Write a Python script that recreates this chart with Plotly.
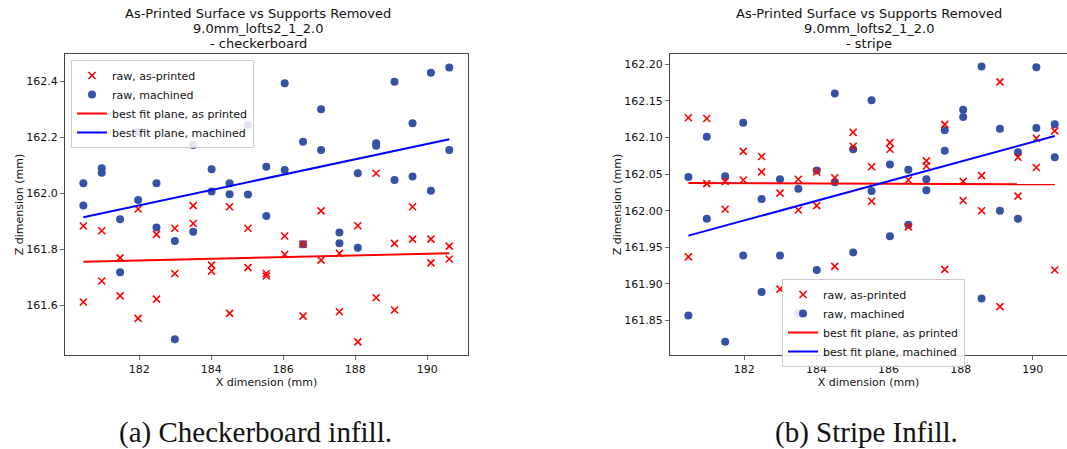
import plotly.graph_objects as go

# ---------------- data ----------------
x_positions = [180.45, 180.96, 181.47, 181.97, 182.48, 182.99, 183.50, 184.01, 184.51, 185.02,
               185.53, 186.04, 186.55, 187.05, 187.56, 188.07, 188.58, 189.09, 189.59, 190.10, 190.61]

# checkerboard: two readings per x column
checker_printed = [
    [161.883, 161.611], [161.866, 161.686], [161.769, 161.633], [161.944, 161.552],
    [161.853, 161.621], [161.875, 161.713], [161.956, 161.892], [161.743, 161.721],
    [161.952, 161.570], [161.875, 161.734], [161.713, 161.704], [161.847, 161.781],
    [161.818, 161.560], [161.937, 161.761], [161.785, 161.576], [161.884, 161.468],
    [162.072, 161.626], [161.821, 161.582], [161.952, 161.836], [161.836, 161.751],
    [161.811, 161.765]]
checker_machined = [
    [162.036, 161.956], [162.090, 162.074], [161.907, 161.717], [162.219, 161.976],
    [162.036, 161.878], [161.829, 161.477], [162.173, 161.862], [162.086, 162.007],
    [162.036, 161.997], [162.245, 161.996], [162.095, 161.919], [162.394, 162.084],
    [162.185, 161.818], [162.301, 162.155], [161.860, 161.821], [162.072, 161.805],
    [162.179, 162.170], [162.400, 162.048], [162.251, 162.060], [162.432, 162.009],
    [162.451, 162.155]]
checker_fit_printed = [161.755, 161.785]
checker_fit_machined = [161.914, 162.194]

stripe_printed = [
    [162.127, 161.937], [162.126, 162.037], [162.040, 162.002], [162.081, 162.042],
    [162.074, 162.053], [162.024, 161.893], [162.043, 162.001], [162.053, 162.007],
    [162.045, 161.924], [162.107, 162.088], [162.060, 162.013], [162.093, 162.084],
    [162.042, 161.978], [162.068, 162.061], [162.118, 161.920], [162.040, 162.014],
    [162.048, 162.000], [162.176, 161.869], [162.073, 162.020], [162.099, 162.059],
    [162.109, 161.919]]
stripe_machined = [
    [162.046, 161.857], [162.101, 161.989], [162.047, 161.821], [162.120, 161.939],
    [162.016, 161.889], [162.043, 161.939], [162.030, 161.860], [162.055, 161.919],
    [162.160, 162.039], [162.084, 161.943], [162.151, 162.027], [162.063, 161.965],
    [162.056, 161.981], [162.043, 162.028], [162.110, 162.082], [162.138, 162.128],
    [162.197, 161.880], [162.112, 162.000], [162.080, 161.989], [162.196, 162.113],
    [162.118, 162.073]]
stripe_fit_printed = [162.038, 162.036]
stripe_fit_machined = [161.966, 162.102]

x_ticks = [182, 184, 186, 188, 190]
checker_y_ticks = [161.6, 161.8, 162.0, 162.2, 162.4]
stripe_y_ticks = [161.85, 161.90, 161.95, 162.00, 162.05, 162.10, 162.15, 162.20]

title_lines = ["As-Printed Surface vs Supports Removed", "9.0mm_lofts2_1_2.0"]
subtitles = ["- checkerboard", "- stripe"]
captions = ["(a) Checkerboard infill.", "(b) Stripe Infill."]
legend_names = ["raw, as-printed", "raw, machined", "best fit plane, as printed", "best fit plane, machined"]

# ---------------- styling ----------------
W, H = 1067, 449
RED = "#ff0000"
DOT = "#3552a5"
LINE_BLUE = "#0000ff"
FONT = "DejaVu Sans"


def flatten(pairs):
    xs, ys = [], []
    for x, pair in zip(x_positions, pairs):
        for v in pair:
            xs.append(x)
            ys.append(v)
    return xs, ys


fig = go.Figure()


def add_panel(printed, machined, fit_p, fit_m, xa, ya, legend):
    xm, ym = flatten(machined)
    xp, yp = flatten(printed)
    fx = [x_positions[0], x_positions[-1]]
    fig.add_trace(go.Scatter(x=xm, y=ym, mode="markers", name=legend_names[1],
                             marker=dict(symbol="circle", size=8, color=DOT),
                             xaxis=xa, yaxis=ya, legend=legend, legendrank=2))
    fig.add_trace(go.Scatter(x=xp, y=yp, mode="markers", name=legend_names[0],
                             marker=dict(symbol="x-thin", size=7, color=RED,
                                         line=dict(color=RED, width=1.6)),
                             xaxis=xa, yaxis=ya, legend=legend, legendrank=1))
    fig.add_trace(go.Scatter(x=fx, y=fit_p, mode="lines", name=legend_names[2],
                             line=dict(color=RED, width=2),
                             xaxis=xa, yaxis=ya, legend=legend, legendrank=3))
    fig.add_trace(go.Scatter(x=fx, y=fit_m, mode="lines", name=legend_names[3],
                             line=dict(color=LINE_BLUE, width=2),
                             xaxis=xa, yaxis=ya, legend=legend, legendrank=4))


add_panel(checker_printed, checker_machined, checker_fit_printed, checker_fit_machined, "x", "y", "legend")
add_panel(stripe_printed, stripe_machined, stripe_fit_printed, stripe_fit_machined, "x2", "y2", "legend2")

ydom = [(H - 355) / H, (H - 54) / H]
axis_common = dict(showline=True, linecolor="#444", linewidth=1, ticks="outside", ticklen=4,
                   tickcolor="#666", showgrid=False, zeroline=False,
                   tickfont=dict(family=FONT, size=11, color="#111"))

fig.update_layout(
    width=W, height=H, margin=dict(l=0, r=0, t=0, b=0),
    paper_bgcolor="white", plot_bgcolor="white",
    font=dict(family=FONT, color="#111"),
    hovermode=False,
    xaxis=dict(domain=[65 / W, 468 / W], range=[179.94, 191.13], tickvals=x_ticks, mirror=True,
               anchor="y", title=dict(text="X dimension (mm)", font=dict(size=11), standoff=2),
               **axis_common),
    yaxis=dict(domain=ydom, range=[161.421, 162.499], tickvals=checker_y_ticks,
               tickformat=".1f", mirror=True, anchor="x",
               title=dict(text="Z dimension (mm)", font=dict(size=11), standoff=0),
               **axis_common),
    xaxis2=dict(domain=[670 / W, 1.0], range=[179.94, 190.95], tickvals=x_ticks, mirror=True,
                anchor="y2", title=dict(text="X dimension (mm)", font=dict(size=11), standoff=2),
                **axis_common),
    yaxis2=dict(domain=ydom, range=[161.803, 162.214], tickvals=stripe_y_ticks,
                tickformat=".2f", mirror=False, anchor="x2",
                title=dict(text="Z dimension (mm)", font=dict(size=11), standoff=0),
                **axis_common),
    legend=dict(x=71 / W, y=(H - 60) / H, xanchor="left", yanchor="top",
                bgcolor="rgba(255,255,255,0.85)", bordercolor="#cccccc", borderwidth=1,
                font=dict(family=FONT, size=11, color="#111"), tracegroupgap=0,
                itemwidth=30),
    legend2=dict(x=782 / W, y=(H - 279) / H, xanchor="left", yanchor="top",
                 bgcolor="rgba(255,255,255,0.85)", bordercolor="#cccccc", borderwidth=1,
                 font=dict(family=FONT, size=11, color="#111"), tracegroupgap=0,
                 itemwidth=30),
    showlegend=True,
)

# titles: three lines, 15 px apart
for cx, sub in [(258, subtitles[0]), (869, subtitles[1])]:
    for line_text, cy in zip(title_lines + [sub], [13.5, 28.5, 43.5]):
        fig.add_annotation(x=cx / W, y=(H - cy) / H, xref="paper", yref="paper",
                           xanchor="center", yanchor="middle", showarrow=False,
                           text=line_text,
                           font=dict(family=FONT, size=13, color="#111"))

# captions
for cx, cap in [(255, captions[0]), (866, captions[1])]:
    fig.add_annotation(x=cx / W, y=(H - 432) / H, xref="paper", yref="paper",
                       xanchor="center", yanchor="middle", showarrow=False, text=cap,
                       font=dict(family="Liberation Serif", size=29, color="#111"))

fig.write_html("out.html", config={"displayModeBar": False, "staticPlot": True},
               post_script="document.body.style.margin='0px';")
